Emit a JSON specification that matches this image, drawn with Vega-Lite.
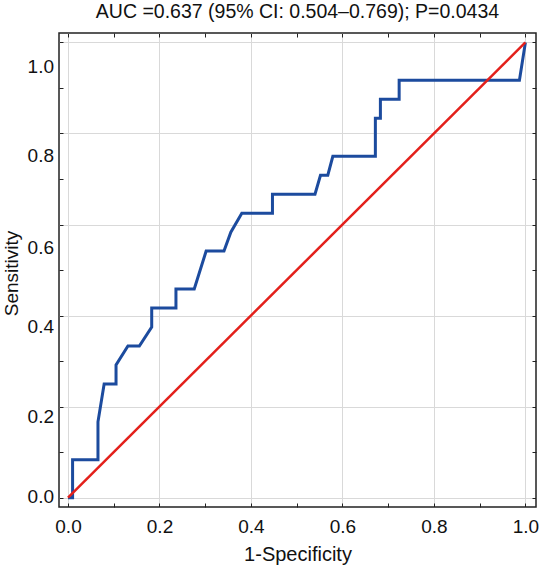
{
  "$schema": "https://vega.github.io/schema/vega-lite/v6.json",
  "width": 477,
  "height": 474,
  "autosize": "none",
  "padding": {"left": 59, "top": 33, "right": 8, "bottom": 58},
  "background": "white",
  "config": {
    "font": "Liberation Sans",
    "view": {"stroke": "#222222", "strokeWidth": 1.5}
  },
  "title": {
    "text": "AUC =0.637 (95% CI: 0.504–0.769); P=0.0434",
    "fontSize": 19.5,
    "fontWeight": "normal",
    "font": "Liberation Sans",
    "color": "#111111",
    "baseline": "alphabetic",
    "offset": -5
  },
  "datasets": {
    "roc": [
      {"i": 0, "fpr": 0, "tpr": 0},
      {"i": 1, "fpr": 0.01, "tpr": 0},
      {"i": 2, "fpr": 0.01, "tpr": 0.0833},
      {"i": 3, "fpr": 0.0655, "tpr": 0.0833},
      {"i": 4, "fpr": 0.0655, "tpr": 0.1667},
      {"i": 5, "fpr": 0.079, "tpr": 0.25},
      {"i": 6, "fpr": 0.105, "tpr": 0.25},
      {"i": 7, "fpr": 0.105, "tpr": 0.2917},
      {"i": 8, "fpr": 0.131, "tpr": 0.3333},
      {"i": 9, "fpr": 0.156, "tpr": 0.3333},
      {"i": 10, "fpr": 0.183, "tpr": 0.375},
      {"i": 11, "fpr": 0.183, "tpr": 0.4167},
      {"i": 12, "fpr": 0.236, "tpr": 0.4167},
      {"i": 13, "fpr": 0.236, "tpr": 0.4583},
      {"i": 14, "fpr": 0.276, "tpr": 0.4583},
      {"i": 15, "fpr": 0.302, "tpr": 0.5417},
      {"i": 16, "fpr": 0.341, "tpr": 0.5417},
      {"i": 17, "fpr": 0.356, "tpr": 0.5833},
      {"i": 18, "fpr": 0.38, "tpr": 0.625},
      {"i": 19, "fpr": 0.447, "tpr": 0.625},
      {"i": 20, "fpr": 0.447, "tpr": 0.6667},
      {"i": 21, "fpr": 0.54, "tpr": 0.6667},
      {"i": 22, "fpr": 0.552, "tpr": 0.7083},
      {"i": 23, "fpr": 0.568, "tpr": 0.7083},
      {"i": 24, "fpr": 0.579, "tpr": 0.75},
      {"i": 25, "fpr": 0.672, "tpr": 0.75},
      {"i": 26, "fpr": 0.672, "tpr": 0.8333},
      {"i": 27, "fpr": 0.683, "tpr": 0.8333},
      {"i": 28, "fpr": 0.683, "tpr": 0.875},
      {"i": 29, "fpr": 0.724, "tpr": 0.875},
      {"i": 30, "fpr": 0.724, "tpr": 0.9167},
      {"i": 31, "fpr": 0.987, "tpr": 0.9167},
      {"i": 32, "fpr": 1, "tpr": 1}
    ],
    "ref": [
      {"i": 0, "fpr": 0, "tpr": 0},
      {"i": 1, "fpr": 1, "tpr": 1}
    ]
  },
  "layer": [
    {
      "data": {"name": "roc"},
      "mark": {"type": "line", "color": "#1c4b9e", "strokeWidth": 3, "clip": true},
      "encoding": {
        "x": {
          "field": "fpr",
          "type": "quantitative",
          "scale": {"domain": [-0.0197, 1.0232], "nice": false, "zero": false},
          "axis": {
            "orient": "bottom",
            "values": [0, 0.1, 0.2, 0.3, 0.4, 0.5, 0.6, 0.7, 0.8, 0.9, 1],
            "labelExpr": "round(datum.value*10)%2===0 ? format(datum.value,'.1f') : ''",
            "title": "1-Specificity",
            "titleFontSize": 20,
            "titleFontWeight": "normal",
            "titleColor": "#111111",
            "titleBaseline": "alphabetic",
            "titleY": 53,
            "labelFontSize": 19,
            "labelColor": "#111111",
            "labelPadding": 10.5,
            "labelFlush": false,
            "labelOverlap": false,
            "ticks": false,
            "domain": false,
            "grid": true,
            "gridColor": "#d9d9d9",
            "gridWidth": 1,
            "gridOpacity": {"condition": {"test": "round(datum.value*10)%2===1", "value": 0}, "value": 1}
          }
        },
        "y": {
          "field": "tpr",
          "type": "quantitative",
          "scale": {"domain": [-0.0204, 1.0207], "nice": false, "zero": false},
          "axis": {
            "orient": "left",
            "values": [0, 0.1, 0.2, 0.3, 0.4, 0.5, 0.6, 0.7, 0.8, 0.9, 1],
            "labelExpr": "round(datum.value*10)%2===0 ? format(datum.value,'.1f') : ''",
            "title": "Sensitivity",
            "titleFontSize": 19,
            "titleFontWeight": "normal",
            "titleColor": "#111111",
            "titleBaseline": "alphabetic",
            "titleX": -41.5,
            "titleY": 240,
            "labelFontSize": 19,
            "labelColor": "#111111",
            "labelPadding": 5.5,
            "labelFlush": false,
            "labelOverlap": false,
            "labelOffset": {
              "condition": [
                {"test": "datum.value < 0.1", "value": -1},
                {"test": "datum.value < 0.3", "value": 10},
                {"test": "datum.value < 0.5", "value": 11},
                {"test": "datum.value < 0.7", "value": 23},
                {"test": "datum.value < 0.9", "value": 22.5}
              ],
              "value": 24
            },
            "ticks": false,
            "domain": false,
            "grid": true,
            "gridColor": "#d9d9d9",
            "gridWidth": 1,
            "gridOpacity": {"condition": {"test": "round(datum.value*10)%2===1", "value": 0}, "value": 1}
          }
        },
        "order": {"field": "i", "type": "quantitative"}
      }
    },
    {
      "data": {"name": "ref"},
      "mark": {"type": "line", "color": "#e3201b", "strokeWidth": 2.5, "clip": true},
      "encoding": {
        "x": {
          "field": "fpr",
          "type": "quantitative",
          "scale": {"domain": [-0.0197, 1.0232], "nice": false, "zero": false},
          "axis": {
            "orient": "bottom",
            "values": [0, 0.1, 0.2, 0.3, 0.4, 0.5, 0.6, 0.7, 0.8, 0.9, 1],
            "labels": false,
            "title": null,
            "grid": false,
            "domain": false,
            "tickSize": -4,
            "tickColor": "#222222",
            "tickWidth": 1
          }
        },
        "y": {
          "field": "tpr",
          "type": "quantitative",
          "scale": {"domain": [-0.0204, 1.0207], "nice": false, "zero": false},
          "axis": {
            "orient": "left",
            "values": [0, 0.1, 0.2, 0.3, 0.4, 0.5, 0.6, 0.7, 0.8, 0.9, 1],
            "labels": false,
            "title": null,
            "grid": false,
            "domain": false,
            "tickSize": -4,
            "tickColor": "#222222",
            "tickWidth": 1
          }
        },
        "order": {"field": "i", "type": "quantitative"}
      }
    },
    {
      "data": {"name": "ref"},
      "mark": {"type": "line", "color": "#e3201b", "strokeWidth": 2.5, "strokeOpacity": 0, "clip": true},
      "encoding": {
        "x": {
          "field": "fpr",
          "type": "quantitative",
          "scale": {"domain": [-0.0197, 1.0232], "nice": false, "zero": false},
          "axis": {
            "orient": "top",
            "values": [0, 0.1, 0.2, 0.3, 0.4, 0.5, 0.6, 0.7, 0.8, 0.9, 1],
            "labels": false,
            "title": null,
            "grid": false,
            "domain": false,
            "tickSize": -4,
            "tickColor": "#222222",
            "tickWidth": 1
          }
        },
        "y": {
          "field": "tpr",
          "type": "quantitative",
          "scale": {"domain": [-0.0204, 1.0207], "nice": false, "zero": false},
          "axis": {
            "orient": "right",
            "values": [0, 0.1, 0.2, 0.3, 0.4, 0.5, 0.6, 0.7, 0.8, 0.9, 1],
            "labels": false,
            "title": null,
            "grid": false,
            "domain": false,
            "tickSize": -4,
            "tickColor": "#222222",
            "tickWidth": 1
          }
        },
        "order": {"field": "i", "type": "quantitative"}
      }
    }
  ],
  "resolve": {"axis": {"x": "independent", "y": "independent"}}
}
